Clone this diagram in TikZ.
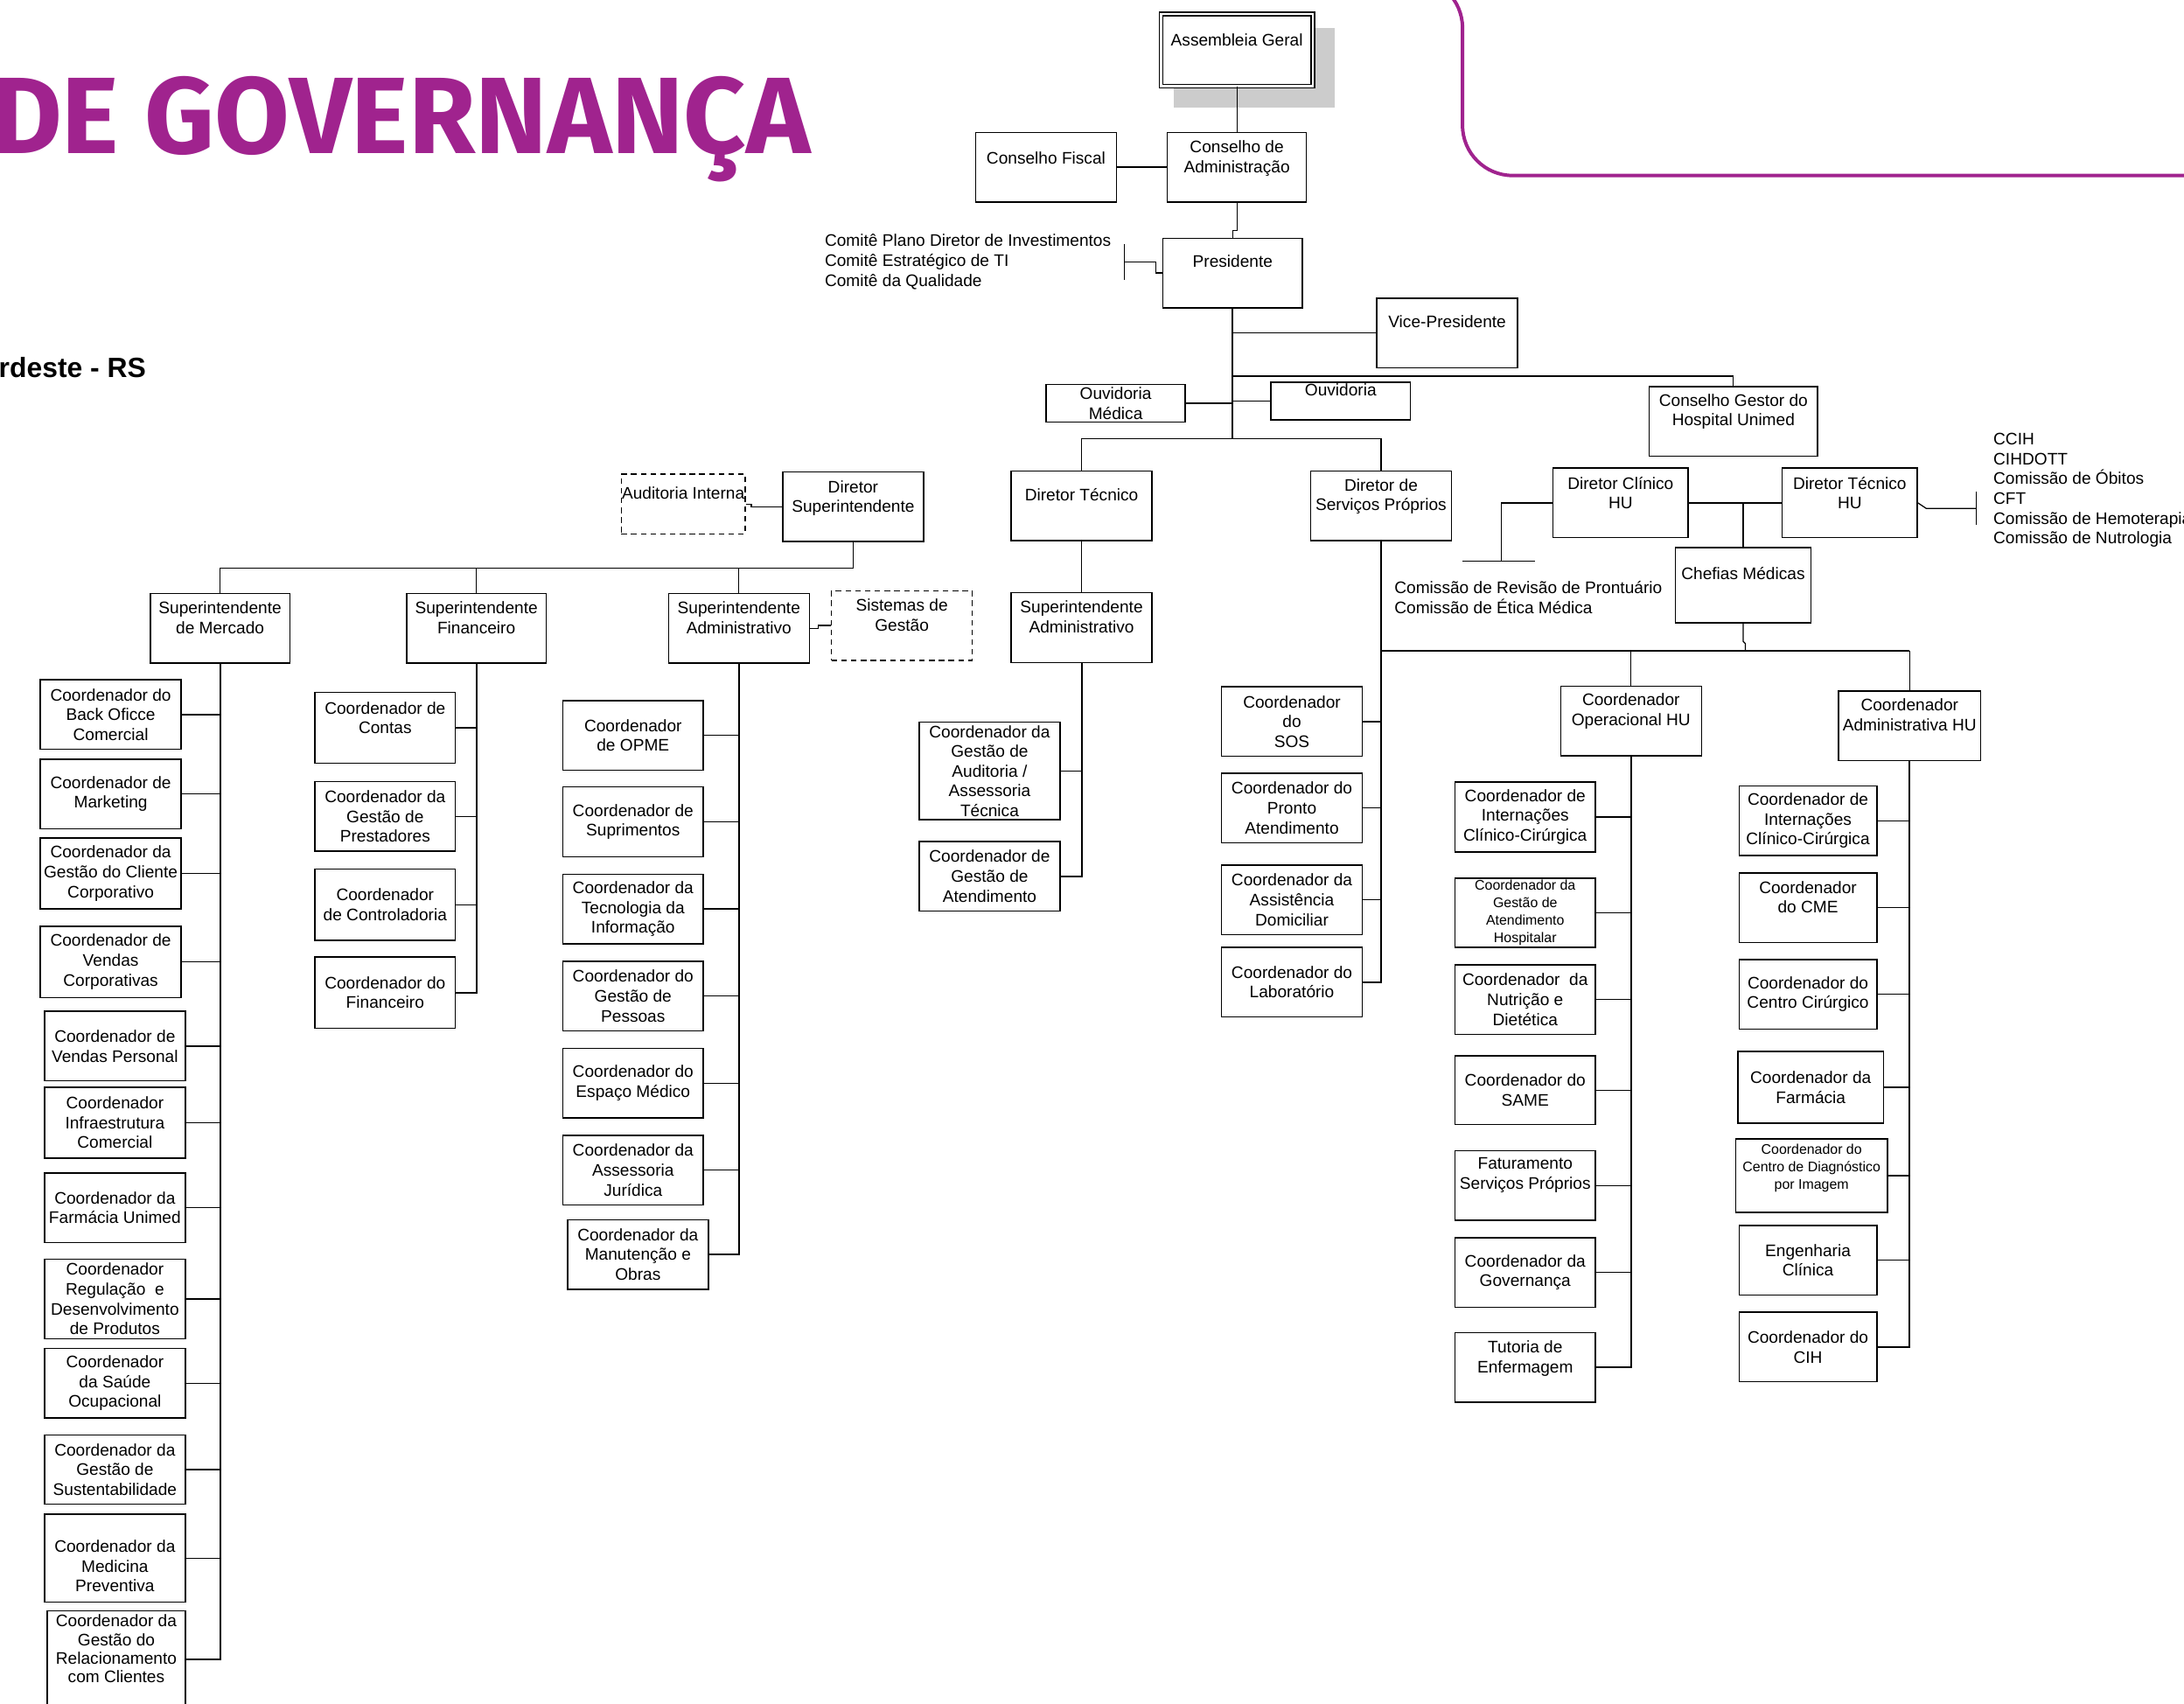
\documentclass[tikz,border=0pt]{standalone}
\usepackage{fontspec}
\setmainfont{Liberation Sans}
\newfontfamily\titlefont{Fira Sans}
\usepackage{tikz}
\usetikzlibrary{positioning,calc}
\definecolor{unipurple}{RGB}{160,35,142}
\definecolor{shadowgray}{RGB}{204,204,204}
\tikzset{
  box/.style={draw, line width=0.9pt, minimum width=101pt, minimum height=50pt, inner sep=0.5pt, align=center, font=\fontsize{12}{14.2}\selectfont},
  dbox/.style={box, dash pattern=on 4pt off 3pt},
  tt/.style={anchor=north, align=center, inner sep=0pt, font=\fontsize{12}{14.2}\selectfont},
  smallbox/.style={font=\fontsize{10}{12.5}\selectfont},
  smalltt/.style={tt, font=\fontsize{10}{12.4}\selectfont},
  note/.style={anchor=west, align=left, inner sep=0pt, font=\fontsize{12}{14.2}\selectfont},
  link/.style={line width=0.8pt},
  trunk/.style={line width=1.3pt}
}
\begin{document}
\begin{tikzpicture}[x=1pt, y=-1pt]
\useasboundingbox (0,0) rectangle (1568,1223);

% title and frame
\node[anchor=base east, inner sep=0pt, text=unipurple, font=\titlefont\bfseries\fontsize{78}{78}\selectfont] (title) at (582,110) {DE GOVERNANÇA};
\node[anchor=base east, inner sep=0pt, font=\bfseries\fontsize{20}{20}\selectfont] (region) at (105,271) {rdeste - RS};
\draw[unipurple, line width=2.5pt, rounded corners=36pt] (950,-16) -- (1050,-16) -- (1050,126) -- (1620,126);

% governance
\fill[shadowgray] (843,20) rectangle (958,77);
\node[box, fill=white, double, double distance=1.6pt, minimum width=109pt, minimum height=52pt, label={[tt,yshift=-14.5pt]north:Assembleia Geral}] (ag) at (888,36) {};
\node[box, label={[tt,yshift=-14pt]north:Conselho Fiscal}] (cf) at (751,120) {};
\node[box, minimum width=100pt, label={[tt,yshift=-6.4pt]north:{Conselho de\\Administração}}] (ca) at (888,120) {};
\node[box, minimum width=100pt, label={[tt,yshift=-12.7pt]north:Presidente}] (pres) at (885,196) {};
\node[box, label={[tt,yshift=-12.7pt]north:Vice-Presidente}] (vp) at (1039,239) {};
\node[box, minimum width=100pt, minimum height=27pt] (om) at (801,289.5) {Ouvidoria\\Médica};
\node[box, minimum width=100pt, minimum height=27pt, label={[tt,yshift=-1.3pt]north:Ouvidoria}] (ouv) at (962.5,288) {};
\node[box, minimum width=121pt, label={[tt,yshift=-5.6pt]north:{Conselho Gestor do\\Hospital Unimed}}] (cg) at (1244.5,302.5) {};

\node[note] (comites) at (592,188) {Comitê Plano Diretor de Investimentos\\Comitê Estratégico de TI\\Comitê da Qualidade};

% directors
\node[dbox, minimum width=89pt, minimum height=43pt, label={[tt,yshift=-9.8pt]north:Auditoria Interna}] (ai) at (490.5,361.8) {};
\node[box, label={[tt,yshift=-6.4pt]north:{Diretor\\Superintendente}}] (dsup) at (612.5,363.8) {};
\node[box, label={[tt,yshift=-12.9pt]north:Diretor Técnico}] (dt) at (776.5,363) {};
\node[box, label={[tt,yshift=-6pt]north:{Diretor de\\Serviços Próprios}}] (dsp) at (991.5,363) {};
\node[box, minimum width=97pt, label={[tt,yshift=-6.5pt]north:{Diretor Clínico\\HU}}] (dchu) at (1163.5,361) {};
\node[box, minimum width=97pt, label={[tt,yshift=-6.5pt]north:{Diretor Técnico\\HU}}] (dthu) at (1328,361) {};
\node[box, minimum width=97pt, minimum height=54pt, label={[tt,yshift=-14.6pt]north:Chefias Médicas}] (chef) at (1251.5,420) {};

\node[note] (crp) at (1001,429) {Comissão de Revisão de Prontuário\\Comissão de Ética Médica};
\node[note] (hulist) at (1431,352) {CCIH\\CIHDOTT\\Comissão de Óbitos\\CFT\\Comissão de Hemoterapia\\Comissão de Nutrologia};

% superintendents
\node[box, minimum width=100pt, label={[tt,yshift=-6pt]north:{Superintendente\\de Mercado}}] (sm) at (158,451) {};
\node[box, minimum width=100pt, label={[tt,yshift=-6pt]north:{Superintendente\\Financeiro}}] (sf) at (342,451) {};
\node[box, label={[tt,yshift=-6pt]north:{Superintendente\\Administrativo}}] (sa) at (530.5,451) {};
\node[dbox, label={[tt,yshift=-6.3pt]north:{Sistemas de\\Gestão}}] (sg) at (647.5,449) {};
\node[box, label={[tt,yshift=-6pt]north:{Superintendente\\Administrativo}}] (sa2) at (776.5,450.5) {};

% mercado
\node[box] (c1) at (79.5,513) {Coordenador do\\Back Oficce\\Comercial};
\node[box] (c2) at (79.5,570) {Coordenador de\\Marketing};
\node[box, minimum height=51pt] (c3) at (79.5,627) {Coordenador da\\Gestão do Cliente\\Corporativo};
\node[box, minimum height=51pt] (c4) at (79.5,690.5) {Coordenador de\\Vendas\\Corporativas};
\node[box] (c5) at (82.5,751) {Coordenador de\\Vendas Personal};
\node[box, minimum height=51pt] (c6) at (82.5,806) {Coordenador\\Infraestrutura\\Comercial};
\node[box] (c7) at (82.5,867) {Coordenador da\\Farmácia Unimed};
\node[box, minimum height=57pt] (c8) at (82.5,932.5) {Coordenador\\Regulação\ \ e\\Desenvolvimento\\de Produtos};
\node[box] (c9) at (82.5,993) {Coordenador\\da Saúde\\Ocupacional};
\node[box, minimum height=49.5pt] (c10) at (82.5,1055) {Coordenador da\\Gestão de\\Sustentabilidade};
\node[box, minimum height=63pt, label={[tt,yshift=-19pt]north:{Coordenador da\\Medicina\\Preventiva}}] (c11) at (82.5,1118.5) {};
\node[box, minimum width=99pt, minimum height=87pt, label={[tt,yshift=-3pt,font=\fontsize{12}{13.3}\selectfont]north:{Coordenador da\\Gestão do\\Relacionamento\\com Clientes}}] (c12) at (83.5,1200) {};

% financeiro
\node[box, minimum height=51pt, label={[tt,yshift=-7pt]north:{Coordenador de\\Contas}}] (f1) at (276.5,522.5) {};
\node[box] (f2) at (276.5,586) {Coordenador da\\Gestão de\\Prestadores};
\node[box, minimum height=51pt] (f3) at (276.5,649.5) {Coordenador\\de Controladoria};
\node[box, minimum height=51pt] (f4) at (276.5,712.5) {Coordenador do\\Financeiro};

% administrativo
\node[box] (a1) at (454.5,528) {Coordenador\\de OPME};
\node[box] (a2) at (454.5,590) {Coordenador de\\Suprimentos};
\node[box] (a3) at (454.5,652.5) {Coordenador da\\Tecnologia da\\Informação};
\node[box] (a4) at (454.5,715) {Coordenador do\\Gestão de\\Pessoas};
\node[box] (a5) at (454.5,777.5) {Coordenador do\\Espaço Médico};
\node[box] (a6) at (454.5,840) {Coordenador da\\Assessoria\\Jurídica};
\node[box] (a7) at (458,900.5) {Coordenador da\\Manutenção e\\Obras};

% tecnico
\node[box, minimum height=70pt] (t1) at (710.5,553.5) {Coordenador da\\Gestão de\\Auditoria /\\Assessoria\\Técnica};
\node[box] (t2) at (710.5,629) {Coordenador de\\Gestão de\\Atendimento};

% servicos proprios
\node[box] (s1) at (927.5,518) {Coordenador\\do\\SOS};
\node[box] (s2) at (927.5,580) {Coordenador do\\Pronto\\Atendimento};
\node[box] (s3) at (927.5,646) {Coordenador da\\Assistência\\Domiciliar};
\node[box] (s4) at (927.5,705) {Coordenador do\\Laboratório};

\node[box, label={[tt,yshift=-5.6pt]north:{Coordenador\\Operacional HU}}] (coh) at (1171,517.5) {};
\node[box] (o1) at (1095,586.5) {Coordenador de\\Internações\\Clínico-Cirúrgica};
\node[box, smallbox, minimum height=49.5pt] (o2) at (1095,655.3) {Coordenador da\\Gestão de\\Atendimento\\Hospitalar};
\node[box] (o3) at (1095,717.5) {Coordenador\ \ da\\Nutrição e\\Dietética};
\node[box, minimum height=49.5pt] (o4) at (1095,782.6) {Coordenador do\\SAME};
\node[box, label={[tt,yshift=-5.5pt]north:{Faturamento\\Serviços Próprios}}] (o5) at (1095,851) {};
\node[box] (o6) at (1095,913.5) {Coordenador da\\Governança};
\node[box, label={[tt,yshift=-6pt]north:{Tutoria de\\Enfermagem}}] (o7) at (1095,981.7) {};

\node[box, minimum width=102pt, label={[tt,yshift=-6pt]north:{Coordenador\\Administrativa HU}}] (cah) at (1371,521) {};
\node[box, minimum width=99pt] (h1) at (1298,589.2) {Coordenador de\\Internações\\Clínico-Cirúrgica};
\node[box, minimum width=99pt, label={[tt,yshift=-6pt]north:{Coordenador\\do CME}}] (h2) at (1298,651.7) {};
\node[box, minimum width=99pt] (h3) at (1298,713.8) {Coordenador do\\Centro Cirúrgico};
\node[box, minimum width=104.5pt, minimum height=51.4pt] (h4) at (1300,780.5) {Coordenador da\\Farmácia};
\node[box, minimum width=109pt, minimum height=52.7pt, label={[smalltt,yshift=-4pt]north:{Coordenador do\\Centro de Diagnóstico\\por Imagem}}] (h5) at (1300.6,844) {};
\node[box, minimum width=99pt] (h6) at (1298,904.7) {Engenharia\\Clínica};
\node[box, minimum width=99pt] (h7) at (1298,967) {Coordenador do\\CIH};

% top links
\draw[link] (ag.south) -- (ca.north);
\draw[link] (cf.east) -- (ca.west);
\draw[link] (ca.south) -- ++(0,20) -| (pres.north);
\draw[trunk] (pres.south) -- (pres.south |- 0,315);
\draw[link] (vp.west) -- (vp.west -| pres.south);
\draw[link] (pres.south |- 0,270) -| (cg.north);
\draw[link] (om.east) -- (om.east -| pres.south);
\draw[link] (ouv.west) -- (ouv.west -| pres.south);
\draw[link] (dt.north) |- (pres.south |- 0,315) -| (dsp.north);
\coordinate (combar) at (807,188);
\draw[link] (combar) ++(0,-12.5) -- ++(0,25.5);
\draw[link] (combar) -- ++(23,0) |- (pres.west);

% directors links
\draw[link] (ai.east) -- ++(4,0) |- (dsup.west);
\draw[link] (dsup.south) |- (sm.north |- 0,408) -- (sm.north);
\draw[link] (sf.north) -- (sf.north |- 0,408);
\draw[link] (sa.north) -- (sa.north |- 0,408);
\draw[link] (sa.east) -- ++(6,0) |- (sg.west);
\draw[link] (dt.south) -- (sa2.north);
\draw[link] (dchu.east) -- (dthu.west);
\draw[link] (chef.north) -- (chef.north |- dchu.east);
\coordinate (crpbar) at (1078,403);
\draw[link] (dchu.west) -| (crpbar);
\draw[link] (crpbar) ++(-28,0) -- ++(52,0);
\coordinate (hubar) at (1419,365);
\draw[link] (dthu.east) -- ++(6,4) -- (hubar);
\draw[link] (hubar) ++(0,-12) -- ++(0,24);
\draw[link] (chef.south) -- ++(0,13) -- ++(1.5,1.5) -- ++(0,5.5);
\draw[trunk] (dsp.south |- 0,467) -- (cah.north |- 0,467);
\draw[link] (cah.north |- 0,467) -- (cah.north);
\draw[link] (coh.north) -- (coh.north |- 0,467);

% mercado links
\draw[trunk] (sm.south) |- ([yshift=9pt]c12.east);
\draw[link] (c1.east) -- (c1.east -| sm.south);
\draw[link] (c2.east) -- (c2.east -| sm.south);
\draw[link] (c3.east) -- (c3.east -| sm.south);
\draw[link] (c4.east) -- (c4.east -| sm.south);
\draw[link] (c5.east) -- (c5.east -| sm.south);
\draw[link] (c6.east) -- (c6.east -| sm.south);
\draw[link] (c7.east) -- (c7.east -| sm.south);
\draw[link] (c8.east) -- (c8.east -| sm.south);
\draw[link] (c9.east) -- (c9.east -| sm.south);
\draw[link] (c10.east) -- (c10.east -| sm.south);
\draw[link] (c11.east) -- (c11.east -| sm.south);

% financeiro links
\draw[trunk] (sf.south) |- (f4.east);
\draw[link] (f1.east) -- (f1.east -| sf.south);
\draw[link] (f2.east) -- (f2.east -| sf.south);
\draw[link] (f3.east) -- (f3.east -| sf.south);

% administrativo links
\draw[trunk] (sa.south) |- (a7.east);
\draw[link] (a1.east) -- (a1.east -| sa.south);
\draw[link] (a2.east) -- (a2.east -| sa.south);
\draw[link] (a3.east) -- (a3.east -| sa.south);
\draw[link] (a4.east) -- (a4.east -| sa.south);
\draw[link] (a5.east) -- (a5.east -| sa.south);
\draw[link] (a6.east) -- (a6.east -| sa.south);

% tecnico links
\draw[trunk] (sa2.south) |- (t2.east);
\draw[link] (t1.east) -- (t1.east -| sa2.south);

% servicos proprios links
\draw[trunk] (dsp.south) |- (s4.east);
\draw[link] (s1.east) -- (s1.east -| dsp.south);
\draw[link] (s2.east) -- (s2.east -| dsp.south);
\draw[link] (s3.east) -- (s3.east -| dsp.south);

\draw[trunk] (coh.south) |- (o7.east);
\draw[link] (o1.east) -- (o1.east -| coh.south);
\draw[link] (o2.east) -- (o2.east -| coh.south);
\draw[link] (o3.east) -- (o3.east -| coh.south);
\draw[link] (o4.east) -- (o4.east -| coh.south);
\draw[link] (o5.east) -- (o5.east -| coh.south);
\draw[link] (o6.east) -- (o6.east -| coh.south);

\draw[trunk] (cah.south) |- (h7.east);
\draw[link] (h1.east) -- (h1.east -| cah.south);
\draw[link] (h2.east) -- (h2.east -| cah.south);
\draw[link] (h3.east) -- (h3.east -| cah.south);
\draw[link] (h4.east) -- (h4.east -| cah.south);
\draw[link] (h5.east) -- (h5.east -| cah.south);
\draw[link] (h6.east) -- (h6.east -| cah.south);
\end{tikzpicture}
\end{document}
